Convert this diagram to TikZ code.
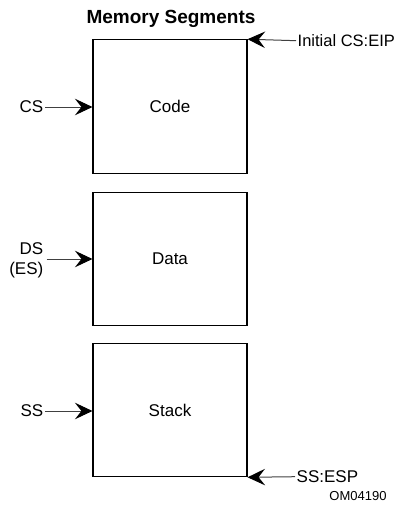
\documentclass[tikz,border=0pt]{standalone}
\usepackage{fontspec}
\setmainfont{Liberation Sans}
\usetikzlibrary{arrows.meta}
\begin{document}
\begin{tikzpicture}[x=1pt,y=-1pt,
  segbox/.style={draw=black,line width=1.1pt,minimum width=154pt,minimum height=133.5pt,inner sep=0pt,font=\fontsize{17}{20}\selectfont},
  lbl/.style={inner sep=1.5pt,font=\fontsize{17}{20}\selectfont},
  arr/.style={draw=black!75,line width=1pt,-{Stealth[length=17.5pt,width=16.5pt,inset=6.5pt,black]}}]
\useasboundingbox (0,0) rectangle (401,519);
\node[font=\bfseries\fontsize{19}{22}\selectfont] (title) at (171,18.5) {Memory Segments};
\node[segbox] (code) at (170,106.5) {Code};
\node[segbox] (data) at (170,259) {Data};
\node[segbox] (stack) at (170,410) {Stack};
\node[lbl,anchor=east] (cs) at (45,107) {CS};
\node[lbl,anchor=east,align=right] (ds) at (45,260) {DS\\(ES)};
\node[lbl,anchor=east] (ss) at (45,411) {SS};
\node[lbl,anchor=west,font=\fontsize{16.5}{20}\selectfont] (eip) at (296,40.7) {Initial CS:EIP};
\node[lbl,anchor=west] (esp) at (295,476.7) {SS:ESP};
\node[font=\fontsize{13}{15}\selectfont] (om) at (358,496) {OM04190};
\draw[arr] (cs.east) -- (cs.east -| code.west);
\draw[arr] (46.7,259) coordinate (dsend) -- (dsend -| data.west);
\draw[arr] (ss.east) -- (ss.east -| stack.west);
\draw[arr] (eip.west) -- (code.north east);
\draw[arr] (esp.west) -- (stack.south east);
\end{tikzpicture}
\end{document}
